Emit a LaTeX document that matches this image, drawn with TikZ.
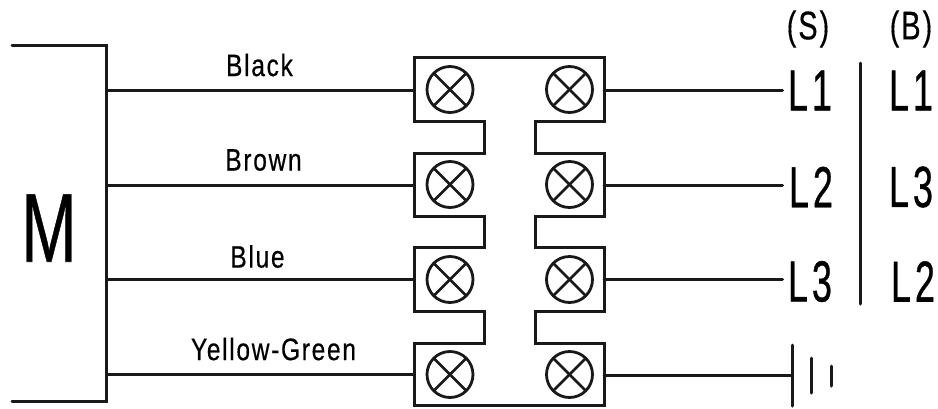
\documentclass[tikz,border=0pt]{standalone}
\usepackage{fontspec}
\setmainfont[FakeBold=0.6]{Liberation Sans}
\newfontfamily\spacedfont[LetterSpace=7,FakeBold=0.5]{Liberation Sans}
\newfontfamily\widefont[LetterSpace=11,FakeBold=0.8]{Liberation Sans}
\usepackage{xcolor}
\usepackage{tikz}
\tikzset{
    wire/.style = {line width=3pt, line cap=round, line join=miter, color=black!90},
    term/.style = {circle, draw=black!90, line width=2.8pt, minimum size=46pt, inner sep=0pt,
        path picture={
            \draw [line width=2.8pt, black!90] (path picture bounding box.north west) -- (path picture bounding box.south east);
            \draw [line width=2.8pt, black!90] (path picture bounding box.north east) -- (path picture bounding box.south west);
        }},
    wirelabel/.style = {inner sep=0pt, xscale=0.79, font=\spacedfont\fontsize{31}{31}\selectfont},
    linelabel/.style = {inner sep=0pt, xscale=0.62, font=\widefont\fontsize{58}{58}\selectfont},
    headlabel/.style = {inner sep=0pt, xscale=0.72, font=\spacedfont\fontsize{40}{40}\selectfont}
}
\begin{document}
\begin{tikzpicture}[x=1pt, y=-1pt]
    \useasboundingbox (0,0) rectangle (938,408);

    % motor
    \draw [wire] (12,45.5) -- (106.5,45.5) -- (106.5,401) -- (12,401);
    \node [inner sep=0pt, xscale=0.68, font=\fontsize{98}{98}\selectfont] (motor) at (49,228) {M};
    \coordinate (m1) at (106.5,90);
    \coordinate (m2) at (106.5,185);
    \coordinate (m3) at (106.5,279);
    \coordinate (m4) at (106.5,374);

    % terminal block
    \draw [wire, line cap=butt] (414.5,57.5) -- (604,57.5) -- (604,121.5) -- (535,121.5) -- (535,153.5) -- (604,153.5)
        -- (604,216) -- (535,216) -- (535,247.5) -- (604,247.5)
        -- (604,311) -- (535,311) -- (535,343.5) -- (604,343.5) -- (604,405.5)
        -- (414.5,405.5) -- (414.5,343.5) -- (484.5,343.5) -- (484.5,311) -- (414.5,311)
        -- (414.5,247.5) -- (484.5,247.5) -- (484.5,216) -- (414.5,216)
        -- (414.5,153.5) -- (484.5,153.5) -- (484.5,121.5) -- (414.5,121.5) -- cycle;
    \node [term] (a1) at (450,89.5) {};
    \node [term] (a2) at (450,184.5) {};
    \node [term] (a3) at (450,279.5) {};
    \node [term] (a4) at (450,374.5) {};
    \node [term] (b1) at (569.5,89.5) {};
    \node [term] (b2) at (569.5,184.5) {};
    \node [term] (b3) at (569.5,279.5) {};
    \node [term] (b4) at (569.5,374.5) {};
    \coordinate (a1in) at (414.5,90);
    \coordinate (a2in) at (414.5,185);
    \coordinate (a3in) at (414.5,279);
    \coordinate (a4in) at (414.5,374);
    \coordinate (b1out) at (604,90);
    \coordinate (b2out) at (604,185);
    \coordinate (b3out) at (604,279);
    \coordinate (b4out) at (604,375);

    % wires on the motor side
    \draw [wire] (m1) -- (a1in);
    \draw [wire] (m2) -- (a2in);
    \draw [wire] (m3) -- (a3in);
    \draw [wire] (m4) -- (a4in);
    \node [wirelabel] (black) at (259.5,65) {Black};
    \node [wirelabel] (brown) at (263.5,160) {Brown};
    \node [wirelabel] (blue) at (257.5,256.5) {Blue};
    \node [wirelabel] (yg) at (273.5,349) {Yellow-Green};

    % line labels
    \node [headlabel] (headS) at (808,29) {(S)};
    \node [headlabel] (headB) at (911,29) {(B)};
    \node [linelabel] (s1) at (810,90.5) {L1};
    \node [linelabel] (s2) at (811,187) {L2};
    \node [linelabel] (s3) at (810,281.5) {L3};
    \node [linelabel] (r1) at (911,90.5) {L1};
    \node [linelabel] (r2) at (911,187) {L3};
    \node [linelabel] (r3) at (913,281.5) {L2};
    \coordinate (s1in) at (782.5,90);
    \coordinate (s2in) at (782.5,185);
    \coordinate (s3in) at (782.5,279);
    \draw [wire] (b1out) -- (s1in);
    \draw [wire] (b2out) -- (s2in);
    \draw [wire] (b3out) -- (s3in);
    \draw [wire] (860,63) -- (860,304);

    % earth
    \coordinate (pe) at (792,375);
    \draw [wire] (b4out) -- (pe);
    \draw [wire] (792,345) -- (792,406);
    \draw [wire] (811,358) -- (811,393);
    \draw [wire] (831,366) -- (831,386);
\end{tikzpicture}
\end{document}
